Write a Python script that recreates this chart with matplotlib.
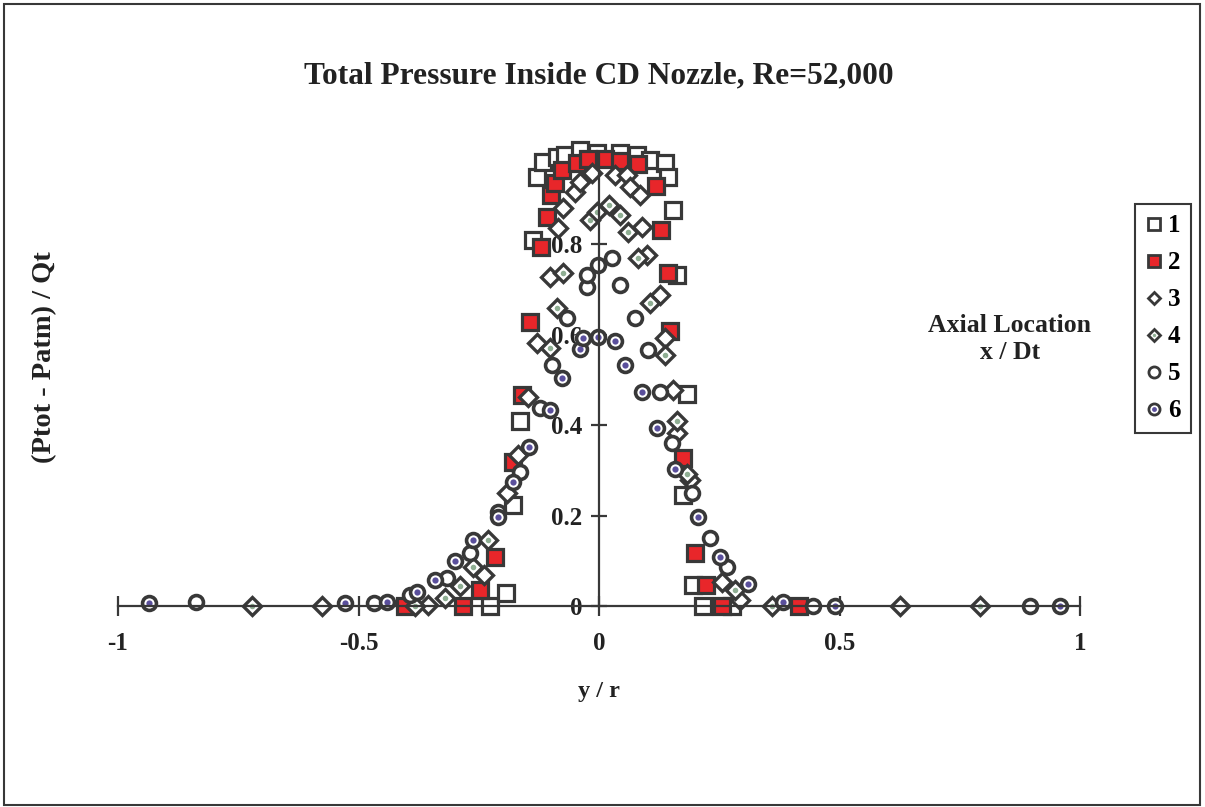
import matplotlib
matplotlib.use("Agg")
import matplotlib.pyplot as plt
from matplotlib.patches import Rectangle
from matplotlib.lines import Line2D

plt.rcParams['font.family'] = ['Liberation Serif', 'DejaVu Serif']
plt.rcParams['font.weight'] = 'bold'

title = "Total Pressure Inside CD Nozzle, Re=52,000"
xlabel = "y / r"
ylabel = "(Ptot - Patm) / Qt"
legend_title = "Axial Location\nx / Dt"
series_labels = ["1", "2", "3", "4", "5", "6"]
xticks = [-1, -0.5, 0, 0.5, 1]
xtick_labels = ["-1", "-0.5", "0", "0.5", "1"]
yticks = [0, 0.2, 0.4, 0.6, 0.8]
ytick_labels = ["0", "0.2", "0.4", "0.6", "0.8"]

x1 = [-0.227, -0.193, -0.179, -0.164, -0.137, -0.129, -0.116, -0.087, -0.071, -0.040, -0.004,
      0.044, 0.079, 0.106, 0.137, 0.143, 0.154, 0.162, 0.183, 0.175, 0.195, 0.216, 0.277]
y1 = [0.0, 0.029, 0.223, 0.410, 0.810, 0.949, 0.982, 0.993, 0.998, 1.009, 1.002,
      1.002, 0.998, 0.987, 0.980, 0.949, 0.876, 0.732, 0.470, 0.246, 0.046, 0.0, 0.0]

x2 = [-0.403, -0.283, -0.247, -0.216, -0.179, -0.160, -0.143, -0.121, -0.108, -0.100, -0.091,
      -0.077, -0.046, -0.023, 0.012, 0.044, 0.081, 0.119, 0.129, 0.143, 0.148, 0.175, 0.200,
      0.222, 0.256, 0.416]
y2 = [0.0, 0.0, 0.035, 0.108, 0.319, 0.467, 0.628, 0.794, 0.860, 0.909, 0.936,
      0.965, 0.980, 0.989, 0.989, 0.985, 0.978, 0.929, 0.832, 0.737, 0.608, 0.327, 0.117,
      0.046, 0.0, 0.0]

x3 = [-0.576, -0.356, -0.239, -0.191, -0.168, -0.148, -0.129, -0.102, -0.085, -0.075, -0.050,
      -0.040, -0.015, 0.033, 0.058, 0.064, 0.085, 0.089, 0.100, 0.127, 0.137, 0.154, 0.162,
      0.189, 0.256, 0.293, 0.626]
y3 = [0.0, 0.002, 0.069, 0.250, 0.334, 0.462, 0.582, 0.728, 0.836, 0.880, 0.916,
      0.938, 0.958, 0.953, 0.953, 0.927, 0.909, 0.839, 0.776, 0.688, 0.593, 0.478, 0.383,
      0.279, 0.053, 0.013, 0.0]

x4 = [-0.721, -0.383, -0.320, -0.289, -0.262, -0.231, -0.102, -0.087, -0.075, -0.019, -0.004,
      0.021, 0.044, 0.060, 0.081, 0.106, 0.137, 0.162, 0.183, 0.283, 0.360, 0.792]
y4 = [0.0, 0.0, 0.018, 0.044, 0.086, 0.146, 0.571, 0.660, 0.737, 0.854, 0.872,
      0.887, 0.865, 0.827, 0.770, 0.670, 0.555, 0.410, 0.292, 0.035, 0.0, 0.0]

x5 = [-0.838, -0.468, -0.393, -0.316, -0.268, -0.210, -0.164, -0.123, -0.098, -0.067, -0.025,
      -0.025, -0.002, 0.027, 0.044, 0.075, 0.102, 0.127, 0.152, 0.193, 0.231, 0.266, 0.445, 0.896]
y5 = [0.009, 0.007, 0.024, 0.062, 0.117, 0.208, 0.296, 0.438, 0.533, 0.637, 0.706,
      0.732, 0.754, 0.770, 0.710, 0.637, 0.566, 0.473, 0.360, 0.250, 0.150, 0.086, 0.0, 0.0]

x6 = [-0.936, -0.528, -0.441, -0.378, -0.341, -0.299, -0.262, -0.210, -0.179, -0.146, -0.102,
      -0.077, -0.040, -0.033, -0.002, 0.033, 0.054, 0.089, 0.121, 0.158, 0.206, 0.252, 0.310,
      0.383, 0.491, 0.958]
y6 = [0.007, 0.007, 0.009, 0.031, 0.058, 0.100, 0.146, 0.197, 0.274, 0.352, 0.434,
      0.504, 0.568, 0.593, 0.595, 0.586, 0.533, 0.473, 0.394, 0.304, 0.197, 0.108, 0.049,
      0.009, 0.0, 0.0]

EDGE = "#383838"
RED = "#e8262a"
GREEN = "#8fae93"
PURPLE = "#5a4f9c"
TXT = "#222222"

fig = plt.figure(figsize=(12.05, 8.07), dpi=100)
ax = fig.add_axes([118 / 1205, 1 - 606 / 807, (1080 - 118) / 1205, (606 - 154) / 807])
ax.set_xlim(-1, 1)
ax.set_ylim(0, 1.0)

for s in ["top", "right"]:
    ax.spines[s].set_visible(False)
ax.spines["left"].set_position(("data", 0))
for s in ["left", "bottom"]:
    ax.spines[s].set_color(EDGE)
    ax.spines[s].set_linewidth(1.6)

ax.set_xticks(xticks)
ax.set_xticklabels(xtick_labels)
ax.set_yticks(yticks)
ax.set_yticklabels(ytick_labels)
ax.tick_params(axis="x", direction="inout", length=14, width=1.6, color=EDGE, pad=12,
               labelsize=18)
ax.tick_params(axis="y", direction="inout", length=12, width=1.6, color=EDGE, pad=6,
               labelsize=18)
for lab in ax.get_xticklabels() + ax.get_yticklabels():
    lab.set_fontweight("bold")
    lab.set_color(TXT)

common = dict(linestyle="none", markeredgecolor=EDGE, clip_on=False)
ax.plot(x1, y1, marker="s", markersize=11, markerfacecolor="white", markeredgewidth=2.3, **common)
ax.plot(x2, y2, marker="s", markersize=11, markerfacecolor=RED, markeredgewidth=2.3, **common)
ax.plot(x3, y3, marker="D", markersize=8.8, markerfacecolor="white", markeredgewidth=2.4, **common)
ax.plot(x4, y4, marker="D", markersize=8.8, markerfacecolor="white", markeredgewidth=2.4, **common)
ax.plot(x4, y4, marker="o", markersize=4, markerfacecolor=GREEN, markeredgewidth=0,
        linestyle="none", clip_on=False)
ax.plot(x5, y5, marker="o", markersize=10, markerfacecolor="white", markeredgewidth=2.6, **common)
ax.plot(x6, y6, marker="o", markersize=10, markerfacecolor="white", markeredgewidth=2.6, **common)
ax.plot(x6, y6, marker="o", markersize=4.5, markerfacecolor=PURPLE, markeredgewidth=0,
        linestyle="none", clip_on=False)

# legend
lk = dict(linestyle="none", markeredgecolor=EDGE)
h1 = Line2D([], [], marker="s", markersize=8, markerfacecolor="white", markeredgewidth=2, **lk)
h2 = Line2D([], [], marker="s", markersize=8, markerfacecolor=RED, markeredgewidth=2, **lk)
h3 = Line2D([], [], marker="D", markersize=6.5, markerfacecolor="white", markeredgewidth=2, **lk)
h4a = Line2D([], [], marker="D", markersize=6.5, markerfacecolor="white", markeredgewidth=2, **lk)
h4b = Line2D([], [], marker="o", markersize=2.5, markerfacecolor=GREEN, markeredgewidth=0, linestyle="none")
h5 = Line2D([], [], marker="o", markersize=8, markerfacecolor="white", markeredgewidth=2, **lk)
h6a = Line2D([], [], marker="o", markersize=8, markerfacecolor="white", markeredgewidth=2, **lk)
h6b = Line2D([], [], marker="o", markersize=3.5, markerfacecolor=PURPLE, markeredgewidth=0, linestyle="none")
leg = fig.legend([h1, h2, h3, (h4a, h4b), h5, (h6a, h6b)], series_labels,
                 loc="upper left", bbox_to_anchor=(1135 / 1205, 1 - 204 / 807),
                 frameon=True, fancybox=False, edgecolor=EDGE, framealpha=1,
                 prop={"family": "Liberation Serif", "weight": "bold", "size": 18},
                 handlelength=0.7, handletextpad=0.2, labelspacing=0.56,
                 borderpad=0.42, borderaxespad=0)
leg.get_frame().set_linewidth(1.5)

fig.text(599 / 1205, 1 - 76 / 807, title, ha="center", va="center", fontsize=22.6,
         fontweight="bold", color=TXT)
fig.text(599 / 1205, 1 - 692 / 807, xlabel, ha="center", va="center", fontsize=17.5,
         fontweight="bold", color=TXT)
fig.text(45 / 1205, 1 - 357 / 807, ylabel, ha="center", va="center", fontsize=20.5,
         fontweight="bold", rotation=90, color=TXT)
fig.text(1010 / 1205, 1 - 339 / 807, legend_title, ha="center", va="center", fontsize=18.5,
         fontweight="bold", color=TXT, linespacing=1.25)

fig.patches.append(Rectangle((4 / 1205, 2 / 807), 1196 / 1205, 801 / 807, transform=fig.transFigure,
                             fill=False, edgecolor=EDGE, linewidth=1.5))

fig.savefig("out.png", dpi=100, facecolor="white")
